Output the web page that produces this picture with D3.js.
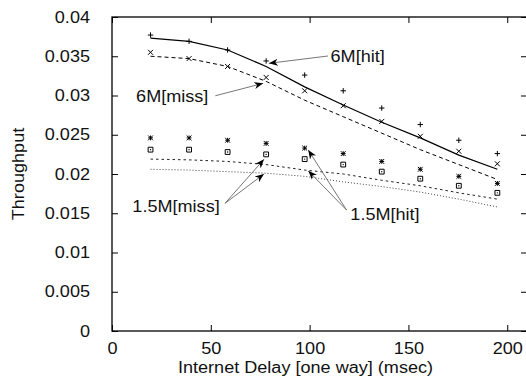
<!DOCTYPE html>
<html>
<head>
<meta charset="utf-8">
<script src="https://cdn.jsdelivr.net/npm/d3@7"></script>
<style>
  html, body { margin: 0; padding: 0; background: #fff; }
  svg { display: block; }
</style>
</head>
<body>
<svg id="chart"></svg>
<script>
// measured delays (msec, one way)
const delays = [19.5, 39, 58.5, 78, 97.5, 117, 136.5, 156, 175.5, 195];

// 6M request size
const hit6 = [0.0377, 0.0369, 0.0358, 0.0344, 0.0326, 0.0306, 0.0284, 0.0263, 0.0243, 0.0226];
const hit6Model = [0.0373, 0.0369, 0.0358, 0.0337, 0.0311, 0.0288, 0.0266, 0.0246, 0.0224, 0.0206];
const miss6 = [0.0355, 0.0347, 0.0337, 0.0323, 0.0306, 0.0287, 0.0267, 0.0248, 0.0229, 0.0213];
const miss6Model = [0.0350, 0.0347, 0.0337, 0.0318, 0.0294, 0.0273, 0.0252, 0.0231, 0.0212, 0.0193];

// 1.5M request size
const hit15 = [0.0246, 0.0246, 0.0243, 0.0239, 0.0233, 0.0226, 0.0216, 0.0206, 0.0197, 0.0188];
const hit15Model = [0.0219, 0.0218, 0.0216, 0.0212, 0.0205, 0.0200, 0.0192, 0.0185, 0.0176, 0.0168];
const miss15 = [0.0231, 0.0231, 0.0228, 0.0225, 0.0219, 0.0212, 0.0203, 0.0194, 0.0185, 0.0176];
const miss15Model = [0.0206, 0.0205, 0.0203, 0.0201, 0.0197, 0.0190, 0.0184, 0.0177, 0.0168, 0.0158];

const xTicks = [0, 50, 100, 150, 200];
const xTickLabels = ['0', '50', '100', '150', '200'];
const yTicks = [0, 0.005, 0.01, 0.015, 0.02, 0.025, 0.03, 0.035, 0.04];
const yTickLabels = ['0', '0.005', '0.01', '0.015', '0.02', '0.025', '0.03', '0.035', '0.04'];

const xTitle = 'Internet Delay [one way] (msec)';
const yTitle = 'Throughput';

// annotation layout, in data units
const notes = [
  {text: '6M[hit]', at: [110.6, 0.03495], from: [109.3, 0.03503], to: [[79.4, 0.0341]]},
  {text: '6M[miss]', at: [12.2, 0.02985], from: [52.3, 0.02997], to: [[76.5, 0.03155]]},
  {text: '1.5M[miss]', at: [10.3, 0.01592], from: [57.2, 0.01627], to: [[76.9, 0.02187], [76.9, 0.0200]]},
  {text: '1.5M[hit]', at: [120.6, 0.0149], from: [118.7, 0.01541], to: [[99.3, 0.02306], [99.3, 0.0204]]}
];

const width = 526, height = 378;
const margin = {top: 17, right: -1, bottom: 47, left: 112};
const fontSize = 16, stretchX = 1.13;
const font = '"Liberation Sans", Arial, Helvetica, sans-serif';

const svg = d3.select('#chart').attr('width', width).attr('height', height);
svg.append('rect').attr('width', width).attr('height', height).attr('fill', '#fff');

const x = d3.scaleLinear().domain([0, 210]).range([margin.left, width - margin.right]);
const y = d3.scaleLinear().domain([0, 0.04]).range([height - margin.bottom, margin.top]);

function stretch(sel, extra) {
  sel.each(function() {
    const t = d3.select(this);
    const tx = +t.attr('x') || 0, ty = +t.attr('y') || 0;
    t.attr('x', 0).attr('y', 0)
      .attr('transform', `translate(${tx},${ty})${extra || ''} scale(${stretchX},1)`);
  });
}

function styleAxis(g) {
  g.select('.domain').remove();
  g.selectAll('.tick line').attr('stroke', '#000').attr('stroke-width', 1);
  g.selectAll('text').attr('font-family', font).attr('font-size', fontSize).attr('fill', '#111');
}

// axes, ticks inward on all four sides
const gx = svg.append('g').attr('transform', `translate(0,${y(0)})`)
  .call(d3.axisBottom(x).tickValues(xTicks).tickFormat((d, i) => xTickLabels[i])
    .tickSize(-6).tickSizeOuter(0).tickPadding(12));
styleAxis(gx);
stretch(gx.selectAll('text'));

const gy = svg.append('g').attr('transform', `translate(${x(0)},0)`)
  .call(d3.axisLeft(y).tickValues(yTicks).tickFormat((d, i) => yTickLabels[i])
    .tickSize(-6).tickSizeOuter(0).tickPadding(22));
styleAxis(gy);
stretch(gy.selectAll('text'));

const gt = svg.append('g').attr('transform', `translate(0,${y(0.04)})`)
  .call(d3.axisTop(x).tickValues(xTicks).tickFormat('').tickSize(-6).tickSizeOuter(0));
styleAxis(gt);

const gr = svg.append('g').attr('transform', `translate(${x(210)},0)`)
  .call(d3.axisRight(y).tickValues(yTicks).tickFormat('').tickSize(-6).tickSizeOuter(0));
styleAxis(gr);

svg.append('rect')
  .attr('x', x(0)).attr('y', y(0.04))
  .attr('width', x(210) - x(0)).attr('height', y(0) - y(0.04))
  .attr('fill', 'none').attr('stroke', '#000').attr('stroke-width', 1.3);

// axis titles
svg.append('text').attr('x', (x(0) + x(210)) / 2 - 14).attr('y', 373)
  .attr('text-anchor', 'middle').attr('font-family', font).attr('font-size', fontSize)
  .attr('fill', '#111').text(xTitle).call(stretch);

svg.append('text').attr('x', 24).attr('y', 174)
  .attr('text-anchor', 'middle').attr('font-family', font).attr('font-size', fontSize)
  .attr('fill', '#111').text(yTitle).call(stretch, ' rotate(-90)');

// model curves
const line = d3.line().x((d, i) => x(delays[i])).y(d => y(d));
const curves = [
  {data: hit6Model, dash: null, color: '#000', w: 1.2},
  {data: miss6Model, dash: '4,3', color: '#000', w: 1},
  {data: hit15Model, dash: '2.5,3', color: '#222', w: 1},
  {data: miss15Model, dash: '1,2', color: '#444', w: 1}
];
curves.forEach(c => {
  svg.append('path').datum(c.data)
    .attr('fill', 'none').attr('stroke', c.color).attr('stroke-width', c.w)
    .attr('stroke-dasharray', c.dash).attr('d', line);
});

// measured points
const symbols = {
  plus: s => `M${-s},0H${s}M0,${-s}V${s}`,
  cross: s => `M${-s},${-s}L${s},${s}M${-s},${s}L${s},${-s}`,
  star: s => `M${-s},0H${s}M0,${-s}V${s}M${-s},${-s}L${s},${s}M${-s},${s}L${s},${-s}`,
  box: s => `M${-s},${-s}H${s}V${s}H${-s}Z`
};
const pointSets = [
  {data: hit6, sym: 'plus', s: 2.7},
  {data: miss6, sym: 'cross', s: 2.5},
  {data: hit15, sym: 'star', s: 2.4},
  {data: miss15, sym: 'box', s: 2.4}
];
pointSets.forEach(p => {
  const g = svg.append('g');
  g.selectAll('path').data(p.data).join('path')
    .attr('transform', (d, i) => `translate(${x(delays[i])},${y(d)})`)
    .attr('d', symbols[p.sym](p.s))
    .attr('fill', 'none').attr('stroke', '#000').attr('stroke-width', 1);
  if (p.sym === 'box') {
    g.selectAll('circle').data(p.data).join('circle')
      .attr('cx', (d, i) => x(delays[i])).attr('cy', d => y(d))
      .attr('r', 0.7).attr('fill', '#000');
  }
});

// annotations with arrows
svg.append('defs').append('marker')
  .attr('id', 'head').attr('viewBox', '0 0 10 10')
  .attr('refX', 10).attr('refY', 5)
  .attr('markerWidth', 9).attr('markerHeight', 9)
  .attr('markerUnits', 'userSpaceOnUse').attr('orient', 'auto')
  .append('path').attr('d', 'M0,1L10,5L0,9L3,5Z').attr('fill', '#000');

notes.forEach(n => {
  n.to.forEach(t => {
    svg.append('line')
      .attr('x1', x(n.from[0])).attr('y1', y(n.from[1]))
      .attr('x2', x(t[0])).attr('y2', y(t[1]))
      .attr('stroke', '#777').attr('stroke-width', 1)
      .attr('marker-end', 'url(#head)');
  });
  svg.append('text')
    .attr('x', x(n.at[0])).attr('y', y(n.at[1]))
    .attr('dy', '0.36em')
    .attr('font-family', font).attr('font-size', fontSize).attr('fill', '#111')
    .text(n.text).call(stretch);
});
</script>
</body>
</html>
